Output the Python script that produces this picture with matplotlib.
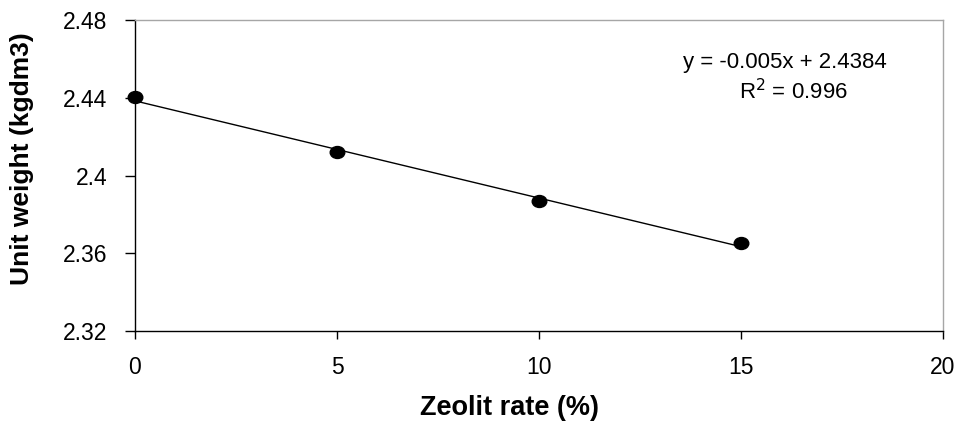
import matplotlib
matplotlib.use("Agg")
import matplotlib.pyplot as plt
from matplotlib.path import Path
from matplotlib.transforms import Affine2D
import numpy as np

plt.rcParams['font.family'] = ['Liberation Sans', 'DejaVu Sans']

zeolit_rate = [0, 5, 10, 15]
unit_weight = [2.4404, 2.4122, 2.3869, 2.3653]
fit_slope = -0.005
fit_intercept = 2.4384
x_ticks = [0, 5, 10, 15, 20]
y_ticks = [2.32, 2.36, 2.40, 2.44, 2.48]
y_tick_labels = ['2.32', '2.36', '2.4', '2.44', '2.48']

fig = plt.figure(figsize=(9.58, 4.23), dpi=100)
ax = fig.add_axes([0.1409, 0.2175, 0.9843 - 0.1409, 0.9527 - 0.2175])

ellipse = Path.unit_circle().transformed(Affine2D().scale(1.22, 1.0))

xfit = np.array([min(zeolit_rate), max(zeolit_rate)])
ax.plot(xfit, fit_slope * xfit + fit_intercept, color='black', lw=1.0, zorder=2)
ax.plot(zeolit_rate, unit_weight, linestyle='none', marker=ellipse, color='black',
        markersize=10.5, zorder=3, clip_on=False)

ax.set_xlim(0, 20)
ax.set_ylim(2.32, 2.48)
ax.set_xticks(x_ticks)
ax.set_yticks(y_ticks)
ax.set_yticklabels(y_tick_labels)
ax.tick_params(axis='both', direction='out', labelsize=16.5, width=1.0, color='black')
ax.tick_params(axis='y', length=7.2, pad=12.5)
ax.tick_params(axis='x', length=6, pad=12)

for s in ['left', 'bottom']:
    ax.spines[s].set_color('black')
    ax.spines[s].set_linewidth(1.0)
for s in ['top', 'right']:
    ax.spines[s].set_color('#a6a6a6')
    ax.spines[s].set_linewidth(1.0)

ax.set_xlabel('Zeolit rate (%)', fontsize=19.5, fontweight='bold')
ax.set_ylabel('Unit weight (kgdm3)', fontsize=19, fontweight='bold')
ax.xaxis.label.set_va('center')
ax.yaxis.label.set_va('center')
ax.xaxis.set_label_coords((510 - 135) / 808, ((423 - 408) / 423 - 0.2175) / 0.7352)
ax.yaxis.set_label_coords((22 - 135) / 808, (331 - 159) / 311)

ax.text((785 - 135) / 808, (331 - 62) / 311, 'y = -0.005x + 2.4384', transform=ax.transAxes,
        ha='center', va='center', fontsize=16)
ax.text((793 - 135) / 808, (331 - 92) / 311, 'R$^2$ = 0.996', transform=ax.transAxes,
        ha='center', va='center', fontsize=16)

fig.savefig('out.png', dpi=100)
